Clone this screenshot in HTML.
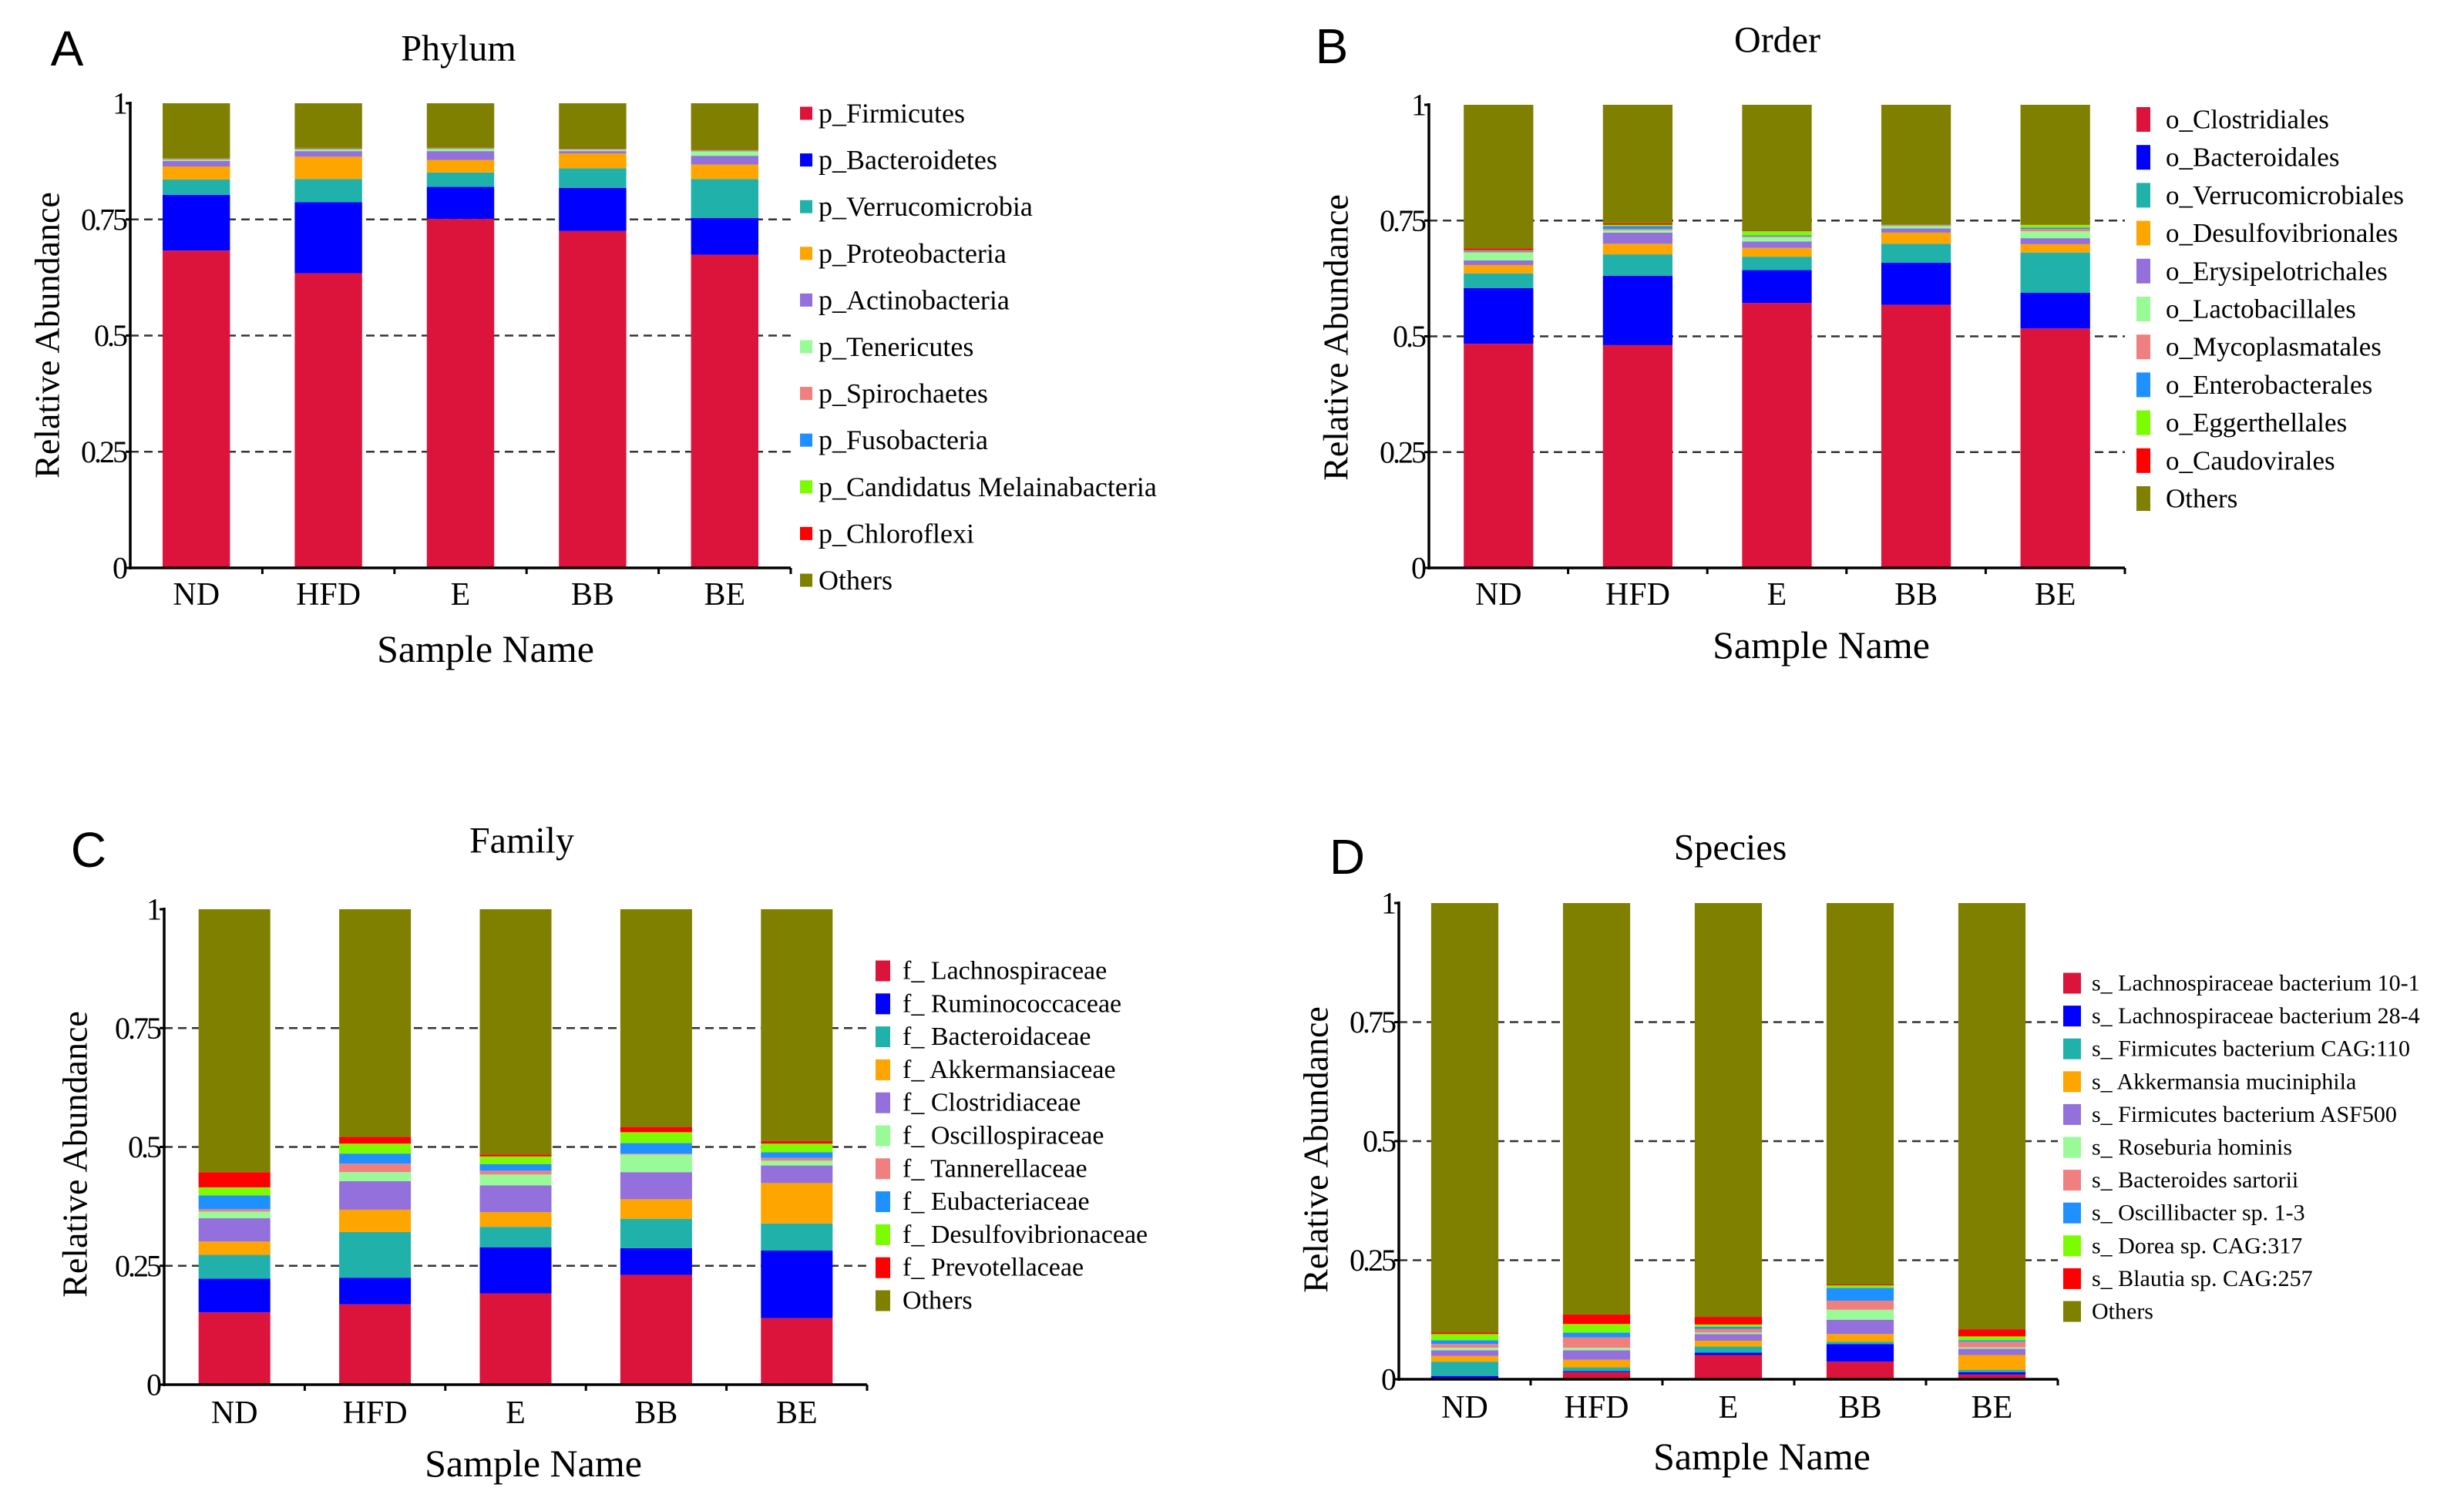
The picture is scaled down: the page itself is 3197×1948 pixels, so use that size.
<!DOCTYPE html>
<html><head><meta charset="utf-8">
<style>
html,body{margin:0;padding:0;background:#fff;}
svg{display:block;}
</style></head>
<body>
<svg id="fig" width="3197" height="1948" viewBox="0 0 3197 1948"></svg>
<script>
const categories = ["ND","HFD","E","BB","BE"];
const colors = ["#DC143C","#0000FF","#20B2AA","#FFA500","#9370DB","#98FB98","#F08080","#1E90FF","#7CFC00","#FF0000","#808000"];
const yTicks = [0,0.25,0.5,0.75,1];
const yTickLabels = ["0","0.25","0.5","0.75","1"];

const phylumNames = ["p_Firmicutes","p_Bacteroidetes","p_Verrucomicrobia","p_Proteobacteria","p_Actinobacteria","p_Tenericutes","p_Spirochaetes","p_Fusobacteria","p_Candidatus Melainabacteria","p_Chloroflexi","Others"];
const phylumND  = [0.683,0.120,0.033,0.028,0.012,0.002,0.001,0.001,0.001,0.001];
const phylumHFD = [0.634,0.153,0.050,0.048,0.012,0.003,0.001,0.001,0.001,0.001];
const phylumE   = [0.751,0.069,0.031,0.027,0.019,0.004,0.001,0.001,0.001,0.001];
const phylumBB  = [0.725,0.093,0.042,0.032,0.005,0.002,0.001,0.001,0.001,0.001];
const phylumBE  = [0.674,0.079,0.084,0.031,0.019,0.009,0.001,0.001,0.001,0.001];

const orderNames = ["o_Clostridiales","o_Bacteroidales","o_Verrucomicrobiales","o_Desulfovibrionales","o_Erysipelotrichales","o_Lactobacillales","o_Mycoplasmatales","o_Enterobacterales","o_Eggerthellales","o_Caudovirales","Others"];
const orderND  = [0.484,0.120,0.032,0.018,0.010,0.017,0.002,0.002,0.001,0.004];
const orderHFD = [0.481,0.150,0.046,0.023,0.024,0.005,0.003,0.006,0.003,0.003];
const orderE   = [0.572,0.071,0.029,0.019,0.014,0.009,0.002,0.002,0.009,0.001];
const orderBB  = [0.568,0.091,0.041,0.024,0.009,0.005,0.001,0.001,0.001,0.001];
const orderBE  = [0.517,0.077,0.087,0.018,0.013,0.015,0.005,0.003,0.006,0.001];

const familyNames = ["f_ Lachnospiraceae","f_ Ruminococcaceae","f_ Bacteroidaceae","f_ Akkermansiaceae","f_ Clostridiaceae","f_ Oscillospiraceae","f_ Tannerellaceae","f_ Eubacteriaceae","f_ Desulfovibrionaceae","f_ Prevotellaceae","Others"];
const familyND  = [0.152,0.071,0.050,0.028,0.049,0.014,0.005,0.029,0.017,0.032];
const familyHFD = [0.169,0.056,0.096,0.047,0.060,0.019,0.018,0.021,0.021,0.014];
const familyE   = [0.192,0.097,0.043,0.031,0.056,0.023,0.008,0.014,0.016,0.004];
const familyBB  = [0.231,0.056,0.062,0.041,0.057,0.037,0.002,0.022,0.023,0.011];
const familyBE  = [0.140,0.142,0.057,0.085,0.037,0.010,0.006,0.012,0.018,0.005];

const speciesNames = ["s_ Lachnospiraceae bacterium 10-1","s_ Lachnospiraceae bacterium 28-4","s_ Firmicutes bacterium CAG:110","s_ Akkermansia muciniphila","s_ Firmicutes bacterium ASF500","s_ Roseburia hominis","s_ Bacteroides sartorii","s_ Oscillibacter sp. 1-3","s_ Dorea sp. CAG:317","s_ Blautia sp. CAG:257","Others"];
const speciesND  = [0.001,0.006,0.030,0.012,0.012,0.005,0.008,0.008,0.013,0.003];
const speciesHFD = [0.015,0.002,0.008,0.016,0.020,0.005,0.022,0.010,0.018,0.020];
const speciesE   = [0.051,0.005,0.013,0.012,0.014,0.003,0.008,0.004,0.005,0.016];
const speciesBB  = [0.037,0.037,0.005,0.016,0.030,0.021,0.019,0.027,0.005,0.002];
const speciesBE  = [0.010,0.005,0.005,0.031,0.013,0.003,0.012,0.003,0.008,0.015];

const NS = "http://www.w3.org/2000/svg";
const SERIF = "'Liberation Serif', serif";
const SANS = "'Liberation Sans', sans-serif";
const svg = document.getElementById("fig");
function el(tag, attrs, parent){
  const e = document.createElementNS(NS, tag);
  for (const k in attrs) e.setAttribute(k, attrs[k]);
  if (tag === "text" && !attrs["font-family"]) e.setAttribute("font-family", SERIF);
  (parent||svg).appendChild(e);
  return e;
}

const panels = [
 {key:"phylum", letter:"A", title:"Phylum", names:phylumNames, series:[phylumND,phylumHFD,phylumE,phylumBB,phylumBE],
  ax:169, end:1026, base:737, top:134, bw:0.51, letterX:87, letterY:63, titleX:595, titleY:63,
  ytX:61, ytY:435, tickY:772, snX:630, snY:842,
  lsx:1038, lsw:16, lsh:17, ltx:1062, ly0:147, lstep:60.6, lfs:36},
 {key:"order", letter:"B", title:"Order", names:orderNames, series:[orderND,orderHFD,orderE,orderBB,orderBE],
  ax:1854, end:2757, base:737, top:136, bw:0.5, letterX:1728, letterY:60, titleX:2306, titleY:52,
  ytX:1733, ytY:438, tickY:772, snX:2363, snY:837,
  lsx:2772, lsw:18, lsh:32, ltx:2810, ly0:155, lstep:49.2, lfs:35},
 {key:"family", letter:"C", title:"Family", names:familyNames, series:[familyND,familyHFD,familyE,familyBB,familyBE],
  ax:213, end:1125, base:1797, top:1180, bw:0.51, letterX:115, letterY:1103, titleX:677, titleY:1091,
  ytX:97, ytY:1498, tickY:1834, snX:692, snY:1899,
  lsx:1136, lsw:19, lsh:27, ltx:1171, ly0:1260, lstep:42.8, lfs:34},
 {key:"species", letter:"D", title:"Species", names:speciesNames, series:[speciesND,speciesHFD,speciesE,speciesBB,speciesBE],
  ax:1815, end:2670, base:1790, top:1172, bw:0.51, letterX:1748, letterY:1112, titleX:2245, titleY:1100,
  ytX:1707, ytY:1492, tickY:1827, snX:2286, snY:1890,
  lsx:2677, lsw:23, lsh:27, ltx:2714, ly0:1276, lstep:42.6, lfs:30}
];

panels.forEach(p => {
  const g = el("g", {});
  
  
  const yS = v => p.base - v*(p.base - p.top);
  const band = (p.end - p.ax)/categories.length;
  const xC = i => p.ax + (i+0.5)*band;

  const lt = el("text", {x:p.letterX, y:p.letterY, "font-size":64, "text-anchor":"middle", "dominant-baseline":"central", "font-family":SANS}, g);
  lt.textContent = p.letter;
  
  

  const tt = el("text", {x:p.titleX, y:p.titleY, "font-size":48, "text-anchor":"middle", "dominant-baseline":"central"}, g);
  tt.textContent = p.title;
  
  

  yTicks.forEach(v => {
    if (v===0.25||v===0.5||v===0.75){
      const gl = el("line", {x1:p.ax, x2:p.end, y1:yS(v), y2:yS(v), stroke:"#333", "stroke-width":2.5, "stroke-dasharray":"11 7"}, g);
      
      
    }
  });

  categories.forEach((c, i) => {
    const vals = p.series[i];
    let cum = 0;
    const w = band*p.bw;
    const all = vals.concat([Math.max(0, 1 - vals.reduce((a,b)=>a+b,0))]);
    all.forEach((v, k) => {
      const r = el("rect", {x:xC(i)-w/2, y:yS(cum+v), width:w, height:Math.max(0, yS(cum)-yS(cum+v)), fill:colors[k]}, g);
      
      
      cum += v;
    });
    const tl = el("text", {x:xC(i), y:p.tickY, "font-size":42, "text-anchor":"middle", "dominant-baseline":"central"}, g);
    tl.textContent = c;
    
    
  });

  const ya = el("line", {x1:p.ax, x2:p.ax, y1:p.top-2, y2:p.base+2, stroke:"#000", "stroke-width":3.5}, g);
  
  
  const xa = el("line", {x1:p.ax-2, x2:p.end, y1:p.base, y2:p.base, stroke:"#000", "stroke-width":3.5}, g);
  
  
  for (let i=1;i<=categories.length;i++){
    const tk = el("line", {x1:p.ax+i*band, x2:p.ax+i*band, y1:p.base, y2:p.base+8, stroke:"#000", "stroke-width":3}, g);
    
    
  }
  yTicks.forEach((v, k) => {
    const tk = el("line", {x1:p.ax-6, x2:p.ax, y1:yS(v), y2:yS(v), stroke:"#000", "stroke-width":3}, g);
    
    
    const yl = el("text", {x:p.ax-6, y:yS(v), "font-size":40, "text-anchor":"end", "dominant-baseline":"central", "letter-spacing":"-3"}, g);
    yl.textContent = yTickLabels[k];
    
    
  });

  const yt = el("text", {x:p.ytX, y:p.ytY, "font-size":46, "text-anchor":"middle", "dominant-baseline":"central", transform:`rotate(-90 ${p.ytX} ${p.ytY})`}, g);
  yt.textContent = "Relative Abundance";
  
  

  const sn = el("text", {x:p.snX, y:p.snY, "font-size":50, "text-anchor":"middle", "dominant-baseline":"central"}, g);
  sn.textContent = "Sample Name";
  
  

  p.names.forEach((n, k) => {
    const cy = p.ly0 + k*p.lstep;
    const sq = el("rect", {x:p.lsx, y:cy-p.lsh/2, width:p.lsw, height:p.lsh, fill:colors[k]}, g);
    
    
    const t = el("text", {x:p.ltx, y:cy, "font-size":p.lfs, "dominant-baseline":"central"}, g);
    t.textContent = n;
    
    
  });
});
</script>
</body></html>
